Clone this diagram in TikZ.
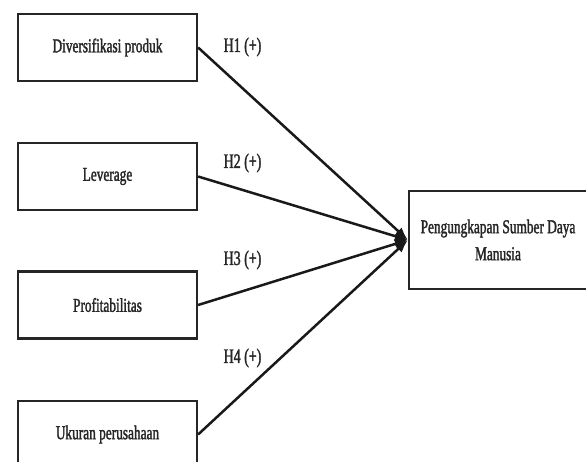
\documentclass[tikz,border=0pt]{standalone}
\usepackage{fontspec}
\setmainfont[FakeStretch=0.68,FakeBold=1.6]{Liberation Serif}
\usetikzlibrary{arrows.meta}
\begin{document}
\begin{tikzpicture}[x=1pt,y=-1pt,
  varbox/.style={draw=black!85,line width=2.2pt,fill=white,minimum width=179pt,minimum height=67pt,inner sep=0pt,
    font=\fontsize{19.6}{27}\selectfont,text=black!85},
  target/.style={draw=black!85,line width=2.2pt,fill=white,minimum width=178pt,minimum height=98pt,inner sep=0pt,align=center,
    font=\fontsize{19.6}{27}\selectfont,text=black!85},
  hyp/.style={font=\fontsize{20.5}{24}\selectfont,text=black!85,inner sep=0pt},
  link/.style={line width=2.5pt,draw=black!90,-{Latex[length=13pt,width=10pt]}}]
\clip (0,0) rectangle (586,462);
\fill[white] (0,0) rectangle (586,462);
\node[varbox] (b1) at (107.5,47.5) {Diversifikasi produk};
\node[varbox] (b2) at (107.5,176.5) {Leverage};
\node[varbox] (b3) at (107.5,305) {Profitabilitas};
\node[varbox] (b4) at (107.5,434.5) {Ukuran perusahaan};
\node[target] (t) at (498,240) {Pengungkapan Sumber Daya\\Manusia};
\draw[link] (b1.east) -- (t.west);
\draw[link] (b2.east) -- (t.west);
\draw[link] (b3.east) -- (t.west);
\draw[link] (b4.east) -- (t.west);
\node[hyp] (h1) at (242.5,47) {H1 (+)};
\node[hyp] (h2) at (242.5,163) {H2 (+)};
\node[hyp] (h3) at (242.5,260) {H3 (+)};
\node[hyp] (h4) at (242.5,358) {H4 (+)};
\end{tikzpicture}
\end{document}
